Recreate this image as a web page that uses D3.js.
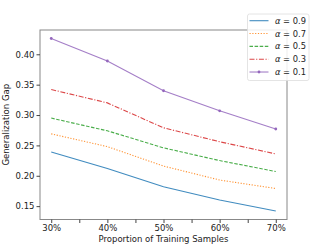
<!DOCTYPE html>
<html><head><meta charset="utf-8">
<script src="https://cdn.jsdelivr.net/npm/d3@7"></script>
<style>body{margin:0;background:#fff}svg{display:block}text{font-family:"DejaVu Sans",sans-serif}</style>
</head><body><svg id="c" width="319" height="247"></svg>
<script>
const xCats = [30, 40, 50, 60, 70];
const xTickLabels = ["30%", "40%", "50%", "60%", "70%"];
const yTicks = [0.15, 0.20, 0.25, 0.30, 0.35, 0.40];
const seriesNames = ["α = 0.9", "α = 0.7", "α = 0.5", "α = 0.3", "α = 0.1"];
const alphaVals = ["0.9", "0.7", "0.5", "0.3", "0.1"];
const s09 = [0.239, 0.212, 0.182, 0.160, 0.142];
const s07 = [0.269, 0.248, 0.216, 0.193, 0.179];
const s05 = [0.295, 0.274, 0.246, 0.225, 0.207];
const s03 = [0.342, 0.320, 0.279, 0.256, 0.236];
const s01 = [0.426, 0.389, 0.340, 0.307, 0.277];
const series = [s09, s07, s05, s03, s01];
const colors = ["#1f77b4", "#ff7f0e", "#2ca02c", "#d62728", "#9467bd"];
const dashes = [null, "1.2,1.6", "3.5,1.6", "5,1.6,1.2,1.6", null];

const svg = d3.select("#c");
const L = 40, R = 287, T = 30, B = 219.5;
const x = d3.scaleLinear().domain([28, 72]).range([L, R]);
const y = d3.scaleLinear().domain([0.128, 0.440]).range([B, T]);
const axisColor = "#888";
const fs = 8.5;

// lines
const line = d3.line().x((d, i) => x(xCats[i])).y(d => y(d));
series.forEach((s, k) => {
  svg.append("path").attr("d", line(s)).attr("fill", "none")
    .attr("stroke", colors[k]).attr("stroke-opacity", 0.85).attr("stroke-width", 1.1)
    .attr("stroke-dasharray", dashes[k]);
});
svg.selectAll(".mk").data(s01).enter().append("circle")
  .attr("cx", (d, i) => x(xCats[i])).attr("cy", d => y(d)).attr("r", 1.4)
  .attr("fill", colors[4]);

// frame
svg.append("rect").attr("x", L).attr("y", T).attr("width", R - L).attr("height", B - T)
  .attr("fill", "none").attr("stroke", axisColor).attr("stroke-width", 1);

// x axis
const xa = svg.append("g").attr("transform", `translate(0,${B})`)
  .call(d3.axisBottom(x).tickValues([30,35,40,45,50,55,60,65,70]).tickSize(3.5).tickPadding(2)
    .tickFormat(d => { const i = xCats.indexOf(d); return i >= 0 ? xTickLabels[i] : ""; }));
xa.select(".domain").remove();
xa.selectAll("line").attr("stroke", "#444");
xa.selectAll("text").attr("font-size", fs).attr("fill", "#222").attr("font-family", "DejaVu Sans");

const ya = svg.append("g").attr("transform", `translate(${L},0)`)
  .call(d3.axisLeft(y).tickValues(yTicks).tickSize(3.5).tickPadding(2).tickFormat(d3.format(".2f")));
ya.select(".domain").remove();
ya.selectAll("line").attr("stroke", "#444");
ya.selectAll("text").attr("font-size", fs).attr("fill", "#222").attr("font-family", "DejaVu Sans");

svg.append("text").attr("x", (L + R) / 2).attr("y", 242).attr("text-anchor", "middle")
  .attr("font-size", fs).attr("fill", "#222").text("Proportion of Training Samples");
svg.append("text").attr("transform", `translate(9,${(T + B) / 2}) rotate(-90)`)
  .attr("text-anchor", "middle").attr("font-size", fs).attr("fill", "#222").text("Generalization Gap");

// legend
const lg = svg.append("g");
lg.append("rect").attr("x", 247.5).attr("y", 14).attr("width", 61.5).attr("height", 66.5)
  .attr("rx", 2).attr("fill", "#fff").attr("fill-opacity", 0.85).attr("stroke", "#ddd").attr("stroke-width", 0.8);
seriesNames.forEach((n, k) => {
  const yy = 20.7 + k * 12.83;
  lg.append("line").attr("x1", 249.5).attr("x2", 268.5).attr("y1", yy).attr("y2", yy)
    .attr("stroke", colors[k]).attr("stroke-opacity", 0.85).attr("stroke-width", 1.1)
    .attr("stroke-dasharray", dashes[k]);
  if (k === 4) lg.append("circle").attr("cx", 259).attr("cy", yy).attr("r", 1.4).attr("fill", colors[k]);
  const t = lg.append("text").attr("x", 275).attr("y", yy + 3).attr("font-size", 8.3).attr("fill", "#222");
  t.append("tspan").attr("font-style", "italic").text("α");
  t.append("tspan").text(" = " + alphaVals[k]);
});
</script></body></html>
